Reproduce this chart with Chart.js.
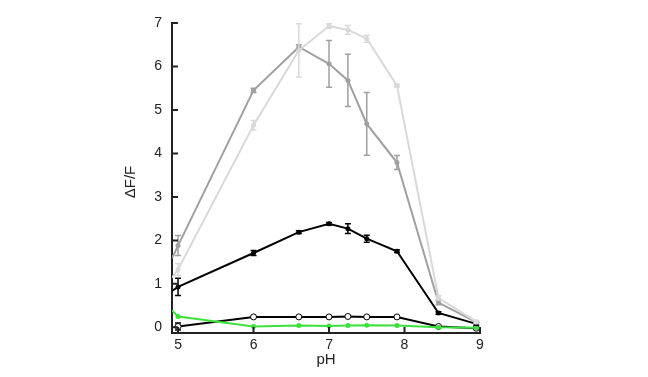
<!DOCTYPE html>
<html>
<head>
<meta charset="utf-8">
<script src="https://cdn.jsdelivr.net/npm/chart.js@4/dist/chart.umd.min.js"></script>
<style>
  html, body { margin: 0; padding: 0; background: #fff; }
</style>
</head>
<body>
<canvas id="myChart" width="648" height="377"></canvas>
<script>
// pH values (first entry sits on the left axis edge, no marker)
var phValues = [4.92, 5, 6, 6.6, 7, 7.25, 7.5, 7.9, 8.45, 8.95];

var lightGray = [1.14, 1.33, 4.65, 6.37, 6.93, 6.84, 6.64, 5.56, 0.68, 0.13];
var lightErr  = [0, 0.14, 0.11, 0.61, 0.05, 0.10, 0.08, 0.03, 0.05, 0.03];

var darkGray = [1.59, 1.88, 5.45, 6.45, 6.06, 5.68, 4.68, 3.79, 0.57, 0.12];
var darkErr  = [0, 0.23, 0.05, 0.05, 0.54, 0.60, 0.72, 0.16, 0.05, 0.03];

var blackFilled = [0.84, 0.93, 1.71, 2.19, 2.38, 2.27, 2.04, 1.75, 0.33, 0.08];
var blackErr    = [0, 0.20, 0.06, 0.03, 0.03, 0.11, 0.08, 0.03, 0.03, 0.03];

var openMarkers = [null, 0.02, 0.24, 0.24, 0.24, 0.25, 0.24, 0.24, 0.02, -0.02];
var openErr     = [0, 0.08, 0, 0, 0, 0, 0, 0, 0, 0];

var green    = [0.39, 0.25, 0.02, 0.04, 0.03, 0.04, 0.05, 0.04, 0.0, -0.01];
var greenErr = [0, 0, 0, 0, 0, 0, 0, 0, 0, 0];

var xTicks = [5, 6, 7, 8, 9];
var yTicks = [0, 1, 2, 3, 4, 5, 6, 7];

var FONT = "'Liberation Sans', Arial, sans-serif";

function pts(values) {
  return phValues.map(function (x, i) { return { x: x, y: values[i] }; });
}

// hide the marker on the edge point
function radius(r) {
  return function (ctx) { return ctx.dataIndex === 0 ? 0 : r; };
}

function series(values, errs, color, r, fill, bw) {
  return {
    data: pts(values),
    errors: errs,
    borderColor: color,
    backgroundColor: fill || color,
    pointBorderColor: color,
    pointBackgroundColor: fill || color,
    pointRadius: radius(r),
    pointBorderWidth: bw || 0,
    borderWidth: 2,
    tension: 0,
    spanGaps: false
  };
}

// error bars with caps, drawn under each dataset's markers
var errorBars = {
  id: 'errorBars',
  beforeDatasetDraw: function (chart, args) {
    var ds = chart.data.datasets[args.index];
    if (!ds.errors) return;
    var ctx = chart.ctx;
    var y = chart.scales.y;
    ctx.save();
    ctx.strokeStyle = ds.borderColor;
    ctx.lineWidth = 1.5;
    args.meta.data.forEach(function (pt, i) {
      var e = ds.errors[i];
      var v = ds.data[i].y;
      if (!e || v === null) return;
      var top = y.getPixelForValue(v + e);
      var bot = y.getPixelForValue(v - e);
      ctx.beginPath();
      ctx.moveTo(pt.x, top); ctx.lineTo(pt.x, bot);
      ctx.moveTo(pt.x - 3, top); ctx.lineTo(pt.x + 3, top);
      ctx.moveTo(pt.x - 3, bot); ctx.lineTo(pt.x + 3, bot);
      ctx.stroke();
    });
    ctx.restore();
  }
};

// inward tick marks and axis titles
var axisDecor = {
  id: 'axisDecor',
  afterDraw: function (chart) {
    var ctx = chart.ctx;
    var a = chart.chartArea;
    var xs = chart.scales.x, ys = chart.scales.y;
    ctx.save();
    ctx.strokeStyle = '#222';
    ctx.lineWidth = 2;
    ctx.beginPath();
    xTicks.forEach(function (v) {
      var px = xs.getPixelForValue(v);
      ctx.moveTo(px, a.bottom); ctx.lineTo(px, a.bottom - 6);
    });
    yTicks.forEach(function (v) {
      var py = ys.getPixelForValue(v);
      ctx.moveTo(a.left, py); ctx.lineTo(a.left + 6, py);
    });
    ctx.stroke();

    ctx.fillStyle = '#222';
    ctx.font = '15px ' + FONT;
    ctx.textAlign = 'center';
    ctx.textBaseline = 'middle';
    ctx.fillText('pH', (a.left + a.right) / 2, 360);
    ctx.translate(131, 182);
    ctx.rotate(-Math.PI / 2);
    ctx.fillText('\u0394F/F', 0, 0);
    ctx.restore();
  }
};

new Chart('myChart', {
  type: 'line',
  data: {
    datasets: [
      series(lightGray, lightErr, '#d9d9d9', 2.5),
      series(darkGray, darkErr, '#a0a0a0', 2.5),
      series(blackFilled, blackErr, '#000000', 2.5),
      series(green, greenErr, '#3ee03e', 2.5),
      series(openMarkers, openErr, '#000000', 3, '#ffffff', 1)
    ]
  },
  options: {
    responsive: false,
    animation: false,
    devicePixelRatio: 1,
    layout: { padding: { left: 112, right: 168, top: 23, bottom: 0 } },
    plugins: {
      legend: { display: false },
      tooltip: { enabled: false }
    },
    scales: {
      x: {
        type: 'linear',
        min: 4.92,
        max: 9,
        afterBuildTicks: function (s) { s.ticks = xTicks.map(function (v) { return { value: v }; }); },
        afterFit: function (s) { s.height = 44; },
        grid: { display: false, drawTicks: false },
        border: { display: true, color: '#222', width: 2 },
        ticks: { padding: 4, color: '#222', font: { family: FONT, size: 14 } }
      },
      y: {
        type: 'linear',
        min: -0.13,
        max: 7,
        afterBuildTicks: function (s) { s.ticks = yTicks.map(function (v) { return { value: v }; }); },
        afterFit: function (s) { s.width = 60; },
        grid: { display: false, drawTicks: false },
        border: { display: true, color: '#222', width: 2 },
        ticks: { padding: 10, color: '#222', font: { family: FONT, size: 14 } }
      }
    }
  },
  plugins: [errorBars, axisDecor]
});
</script>
</body>
</html>
